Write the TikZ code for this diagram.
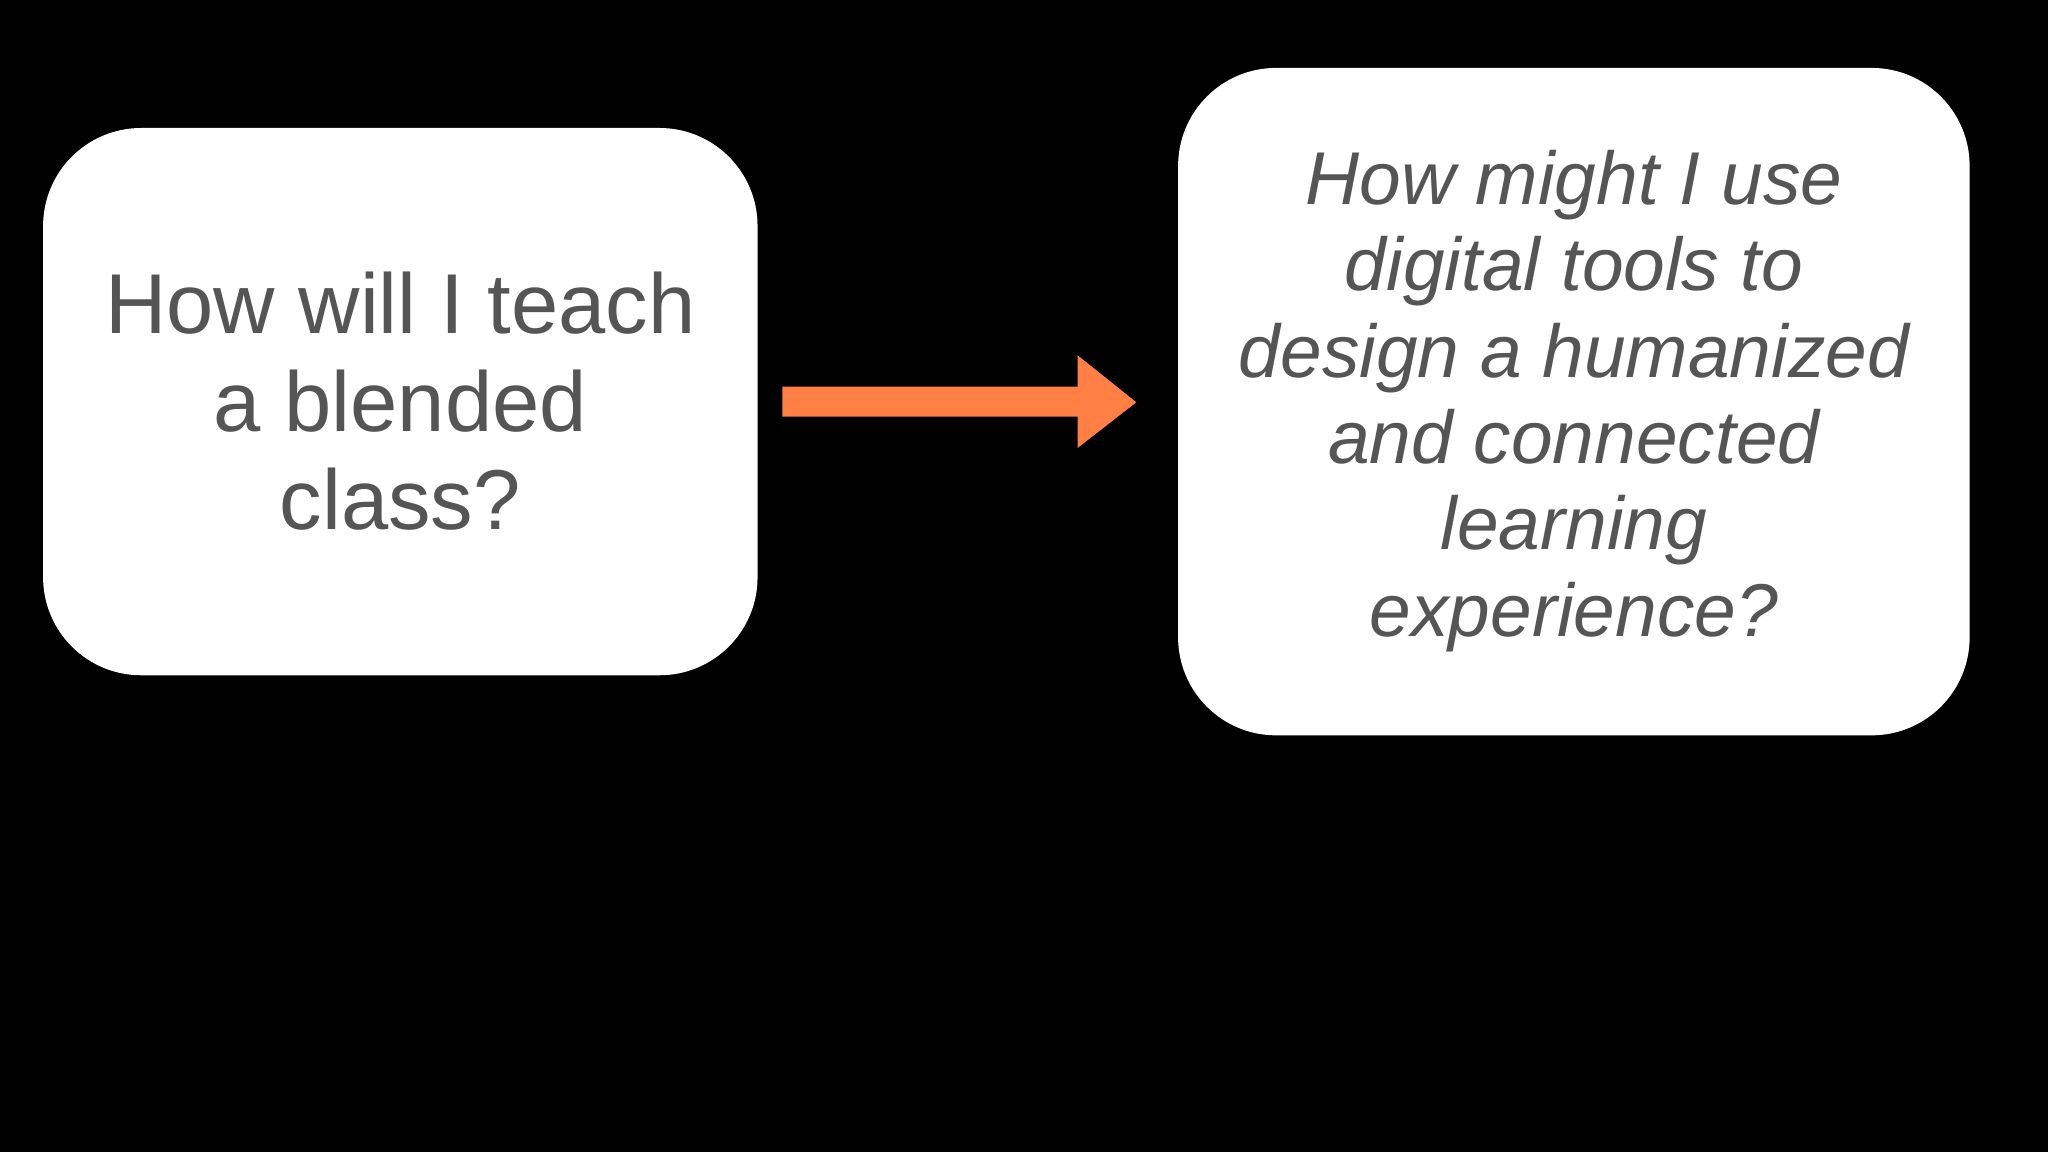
\documentclass[tikz,border=0pt]{standalone}
\usepackage{fontspec}
\setmainfont{Liberation Sans}
\definecolor{txt}{HTML}{555555}
\definecolor{arr}{HTML}{FF7F45}
\begin{document}
\begin{tikzpicture}[x=0.01cm,y=-0.01cm,
  qbox/.style={fill=white,rounded corners=0.75cm},
  qtext/.style={text=txt,align=center}]
\fill[black] (0,0) rectangle (1568,882);
\useasboundingbox (0,0) rectangle (1568,882);
\fill[qbox] (33,98) rectangle (580,517);
\fill[qbox] (902,52) rectangle (1508,563);
\node[qtext,font=\fontsize{18.5}{21.3}\selectfont] (a) at (306.5,307) {How will I teach\\a blended\\class?};
\node[qtext,font=\fontsize{16.3}{18.8}\selectfont\itshape] (b) at (1205,307) {How might I use\\digital tools to\\design a humanized\\and connected\\learning\\experience?};
\fill[arr] (599,296) -- (825,296) -- (825,272) -- (870,308) -- (825,343) -- (825,319) -- (599,319) -- cycle;
\end{tikzpicture}
\end{document}
